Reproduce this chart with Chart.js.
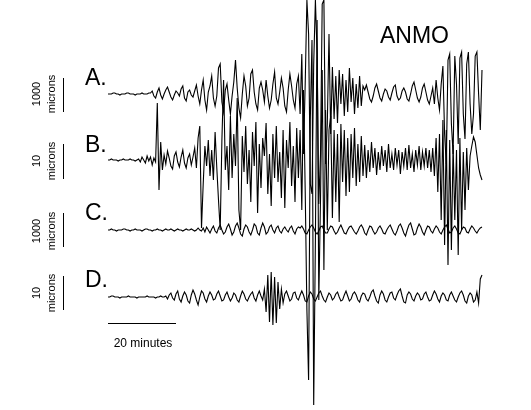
<!DOCTYPE html>
<html><head><meta charset="utf-8">
<script src="https://cdn.jsdelivr.net/npm/chart.js@4"></script>
<style>html,body{margin:0;padding:0;background:#fff}#wrap{width:531px;height:410px}</style>
</head><body><div id="wrap"><canvas id="c" width="531" height="410"></canvas></div>
<script>
// ---- data ----
const station = "ANMO";
const traceLabels = ["A.", "B.", "C.", "D."];
const scaleValues = ["1000", "10", "1000", "10"];
const unitLabel = "microns";
const timeBarMinutes = 20;
const timeBarLabel = "20 minutes";
const sampleStepMinutes = 0.5;

const traceA = [
 0,0,0,1,1,0,0,-1,0,0, 0,1,1,0,0,0,-1,0,0,0, 1,0,0,0,1,
 1,3,-2,-4,2,6,-1,-5,0,4, 7,2,-3,-6,-1,3,1,-2,5,8, -4,-7,2,4,-1,-3,
 3,9,-2,-10,4,14,-6,-16,2,8, 18,-4,-12,-2,26,30,-8,-18,4,10, -6,-20,-2,12,34,6,-14,-24,0,18,
 8,-12,-4,20,24,2,-10,-16,6,12, 4,-8,14,-2,-14,-6,10,22,-4,-10, 2,16,6,-12,-18,4,20,8,-6,-14, 10,18,
 -20,40,-60,10,94,60,-90,-100,30,94, 40,-110,-60,90,94,-70,-30,60,
 -40,27,-25,18,-29,24,-10,20,-22,14, -18,26,-8,16,-20,10,-14,18,-12,8,
 4,9,2,-5,-8,-2,6,10,3,-4, -7,0,5,3,-3,-6,1,7,9,-2, -6,-4,3,6,2,-5,-7,0,8,12, 4,-4,-8,-3,6,10,2,-6,-10,-2,
 6,-10,14,-4,-16,10,28,-40,-70,34, 40,-30,-60,38,10,-50,36,42,-20,-45, 30,42,-10,-40,-20,38,42,0,-36,24
];
const traceB = [
 0,0,1,0,0,0,-1,0,0,1, 0,0,0,1,0,0,-1,0,
 1,-2,3,0,-3,4,-1,3,-5,2,-2,
 57,-30,18,-10,
 5,-4,9,2,-6,-9,4,8,-2,-7, 3,10,-3,-8,2,6,-5,3,
 12,-8,22,34,-68,-24,14,-6,20,-16,
 10,-20,28,-8,-40,-70,20,80,-10,14, -30,44,-18,26,-6,62,-50,-70,24,-12,
 34,-24,10,-42,28,-6,38,-53,16,-28, 22,4,37,-34,6,-46,26,-18,34,-22, 8,-38,30,-48,20,-8,38,-26,14,-42, 32,-18,
 30,-50,70,-30,-150,-220,40,120,-245,-80, 140,-140,-40,90,-110,50,-70,30,
 44,-58,30,-42,26,-62,36,-22,30,-36, 22,-32,26,-18,32,-26,16,-22,24,-16,
 15,-18,10,-12,18,-8,12,-15,8,-10, 14,-6,10,-12,16,-8,6,-10,12,-5, 10,-14,8,-6,12,-10,15,-8,6,-12, 10,-5,14,-10,8,-6,12,-8,10,-12,
 12,-16,22,-32,26,-60,40,-85,30,-105, 20,-90,15,-60,10,-95,22,-70,8,-50, 12,-30,4,14,23,18,5,-8,-15,-20
];
const traceC = [
 0,0,1,0,0,-1,0,0,0,1, 1,0,0,-1,0,0,1,0,0,0, -1,0,1,1,0,0,-1,0,0,1, 0,0,-1,0,1,0,0,1,0,-1, 0,1,0,0,-1,0,1,0,0,1, 0,-1,0,2,0,-1,
 2,-2,3,0,-3,1,4,-1,-3,2, 5,0,-4,-2,3,6,1,-5,-2,4, 7,2,-4,-6,1,5,3,-2,-5,0, 6,4,-3,-5,2,7,3,-4,-2,3, 5,0,-3,2,4,-1,-3,1,3,0, -2,2,4,-1,-4,1,3,
 2,4,1,-3,-4,0,3,5,2,-2, -4,-1,3,4,0,-3,-3,1,4,3, -1,-4,-2,2,5,1,-3,-4,0,3, 4,1,-2,-4,-1,3,5,2,-3,-5, 0,4,3,-1,-4,-2,2,4,1,-3,
 -4,0,3,5,1,-3,-5,-1,4,6, 2,-3,-6,0,5,7,1,-5,-4,2, 6,3,-2,-5,0,4,3,-1,-3,1, 4,2,-2,-4,0,3,5,1,-3,-2, 2,4,1,-3,-4,0,3,2,-2,-3, 1,4,2,-1,-3,0,2,3
];
const traceD = [
 0,0,1,1,0,0,0,-1,0,0, 0,0,1,0,0,0,0,-1,0,0, 0,0,0,1,0,0,0,0,-1,0, 0,1,0,0,
 1,-2,2,4,-1,-3,3,6,-2,-5, 1,5,2,-4,-6,2,7,3,-3,-8, 0,6,4,-2,-5,1,5,2,-3,-2, 3,6,1,-4,-3,2,5,0,-4,-1, 4,2,-3,-5,1,6,3,-2,-4,0, 3,5,-1,-4,2,6,1,-3,
 8,-15,22,-25,25,-28,20,-26,15,-12,8,-6,
 3,6,1,-4,-2,4,5,-1,-3,2, 6,2,-4,-5,1,5,3,-2,-4,0, 4,6,1,-3,-5,0,4,2,-3,-1, 3,5,0,-4,-3,2,6,1,-4,-2, 3,5,2,-3,-5,1,4,3,-2,-4,
 0,5,7,1,-4,-6,2,6,3,-3, -5,0,4,5,-1,-3,2,6,8,1, -5,-6,2,5,3,-2,-4,1,4,2, -3,-2,3,5,0,-4,-3,2,6,3, -2,-5,1,4,2,-3,-4,2,5,1, -3,-5,0,4,6,2,-4,-6,1,
 4,2,-5,-3,5,-6,18,22
];

// ---- layout (pixels / plot units) ----
const traces = [traceA, traceB, traceC, traceD];
const baselinesPx = [94, 160, 230, 297];
const W = 531, H = 410;
const x0Px = 108, pxPerMinute = 3.4;
const FONT = '"Liberation Sans", Arial, Helvetica, sans-serif';

const datasets = traces.map((tr, k) => ({
  label: traceLabels[k],
  data: tr.map((v, i) => ({ x: i * sampleStepMinutes, y: (H - baselinesPx[k]) + v })),
  borderColor: '#000', borderWidth: 1.1, pointRadius: 0, tension: 0, fill: false
}));

const decor = {
  id: 'decor',
  afterDraw(chart) {
    const ctx = chart.ctx;
    const xs = chart.scales.x;
    ctx.save();
    ctx.fillStyle = '#000'; ctx.strokeStyle = '#000'; ctx.lineWidth = 1;
    ctx.font = '23px ' + FONT; ctx.textAlign = 'left'; ctx.textBaseline = 'alphabetic';
    ctx.fillText(station, 380, 43);
    const letterBase = [85, 152, 220, 287];
    traceLabels.forEach((t, k) => ctx.fillText(t, 85, letterBase[k]));
    const bars = [[78, 112], [144, 179], [213, 247], [276, 310]];
    const labCenter = [94, 161, 231, 293];
    bars.forEach((b, k) => {
      ctx.beginPath(); ctx.moveTo(63.5, b[0]); ctx.lineTo(63.5, b[1]); ctx.stroke();
      ctx.save();
      ctx.font = '11px ' + FONT; ctx.textAlign = 'center';
      ctx.translate(55, labCenter[k]); ctx.rotate(-Math.PI / 2);
      ctx.fillText(unitLabel, 0, 0);
      ctx.restore();
      ctx.save();
      ctx.font = '11px ' + FONT; ctx.textAlign = 'center';
      ctx.translate(40, labCenter[k]); ctx.rotate(-Math.PI / 2);
      ctx.fillText(scaleValues[k], 0, 0);
      ctx.restore();
    });
    const xa = Math.round(xs.getPixelForValue(0)), xb = Math.round(xs.getPixelForValue(timeBarMinutes));
    ctx.beginPath(); ctx.moveTo(xa, 323.5); ctx.lineTo(xb, 323.5); ctx.stroke();
    ctx.font = '12px ' + FONT; ctx.textAlign = 'center';
    ctx.fillText(timeBarLabel, (xa + xb) / 2 + 1, 347);
    ctx.restore();
  }
};

new Chart(document.getElementById('c'), {
  type: 'line',
  data: { datasets },
  options: {
    responsive: false, animation: false, devicePixelRatio: 1,
    layout: { padding: 0 },
    plugins: { legend: { display: false }, tooltip: { enabled: false }, title: { display: false } },
    scales: {
      x: { type: 'linear', display: false, min: -x0Px / pxPerMinute, max: (W - x0Px) / pxPerMinute },
      y: { type: 'linear', display: false, min: 0, max: H }
    }
  },
  plugins: [decor]
});
</script>
</body></html>
